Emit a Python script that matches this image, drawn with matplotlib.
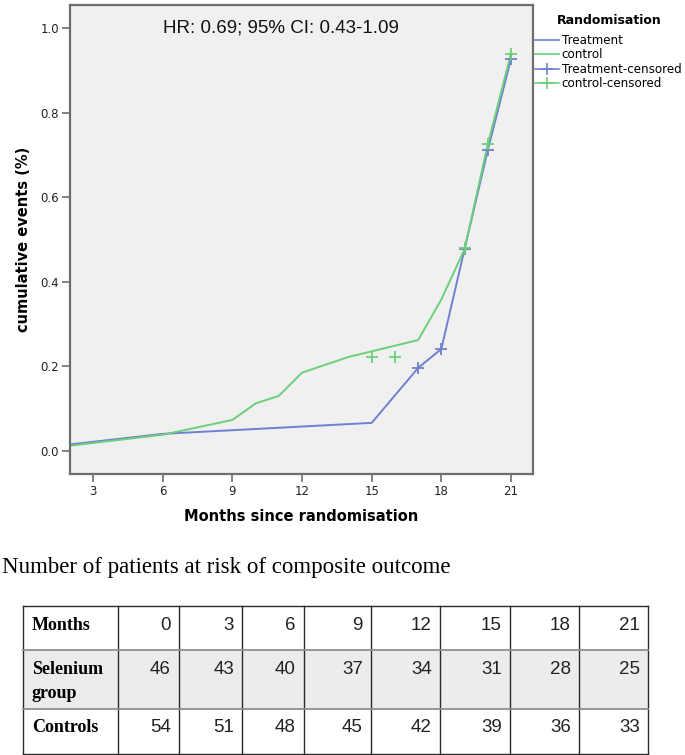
import matplotlib
matplotlib.use('Agg')
import matplotlib.pyplot as plt
from matplotlib.lines import Line2D

plt.rcParams['font.family'] = ['DejaVu Sans']

# ---- data ----
treat_x = [2, 6, 15, 17, 18, 19, 20, 21]
treat_y = [0.015, 0.040, 0.066, 0.196, 0.241, 0.477, 0.711, 0.927]
ctrl_x = [2, 6, 9, 10, 11, 12, 14, 17, 18, 19, 20, 21]
ctrl_y = [0.012, 0.038, 0.073, 0.112, 0.130, 0.185, 0.222, 0.262, 0.358, 0.477, 0.725, 0.940]

treat_cens_x = [17, 18, 19, 20, 21]
treat_cens_y = [0.196, 0.241, 0.477, 0.711, 0.927]
ctrl_cens_x = [15, 16, 19, 20, 21]
ctrl_cens_y = [0.222, 0.222, 0.479, 0.727, 0.940]

# ---- numbers at risk table ----
months = [0, 3, 6, 9, 12, 15, 18, 21]
selenium = [46, 43, 40, 37, 34, 31, 28, 25]
controls = [54, 51, 48, 45, 42, 39, 36, 33]

blue = '#6f80d0'
green = '#6ccf7a'
spine = '#6e6e6e'

fig = plt.figure(figsize=(6.85, 7.55), dpi=100)
ax = fig.add_axes([70/685, 1 - 474/755, 463/685, 469/755])
ax.set_facecolor('#f0f0f0')

ax.plot(treat_x, treat_y, color=blue, lw=1.4)
ax.plot(ctrl_x, ctrl_y, color=green, lw=1.4)
ax.plot(treat_cens_x, treat_cens_y, ls='none', marker='+', ms=9, mew=1.3, color=blue)
ax.plot(ctrl_cens_x, ctrl_cens_y, ls='none', marker='+', ms=9, mew=1.3, color=green)

ax.set_xlim(2, 21.95)
ax.set_ylim(-0.055, 1.055)
ax.set_xticks([3, 6, 9, 12, 15, 18, 21])
ax.set_yticks([0.0, 0.2, 0.4, 0.6, 0.8, 1.0])
ax.set_yticklabels(['0.0', '0.2', '0.4', '0.6', '0.8', '1.0'])
for s in ax.spines.values():
    s.set_color(spine)
    s.set_linewidth(1.6)
ax.tick_params(direction='out', length=6, width=1.2, color=spine,
               labelsize=8.5, labelcolor='#222222', pad=2)

ax.set_xlabel('Months since randomisation', fontsize=10.5, fontweight='bold',
              labelpad=8)
ax.set_ylabel('cumulative events (%)', fontsize=10.5, fontweight='bold',
              labelpad=7)

ax.text((281 - 70) / 463, 0.951, 'HR: 0.69; 95% CI: 0.43-1.09', transform=ax.transAxes,
        ha='center', va='center', fontsize=13.5, family='Liberation Sans',
        color='#111111')

# legend
handles = [
    Line2D([], [], color=blue, lw=1.2),
    Line2D([], [], color=green, lw=1.2),
    Line2D([], [], color=blue, lw=1.2, marker='+', ms=9, mew=1.2),
    Line2D([], [], color=green, lw=1.2, marker='+', ms=9, mew=1.2),
]
labels = ['Treatment', 'control', 'Treatment-censored', 'control-censored']
fig.text(557/685, 1 - 20/755, 'Randomisation', ha='left', va='center',
         fontsize=9, fontweight='bold')
fig.legend(handles, labels, loc='upper left',
           bbox_to_anchor=(535/685, 1 - 34/755), frameon=False,
           fontsize=8.6, handlelength=2.0, handletextpad=0.25,
           labelspacing=0.12, borderpad=0, borderaxespad=0)

# caption
fig.text(2/685, 1 - 567/755, 'Number of patients at risk of composite outcome',
         ha='left', va='center', fontsize=16.5, family='Liberation Serif')

# table drawn in pixel-like units
tax = fig.add_axes([0, 0, 1, 1])
tax.set_xlim(0, 685)
tax.set_ylim(755, 0)
tax.axis('off')

col_edges = [23, 118, 179, 242, 304, 371, 440, 510, 579, 648]
row_edges = [606, 650, 709, 754]

tax.fill_between([col_edges[0], col_edges[-1]], row_edges[1], row_edges[2],
                 color='#ececec', lw=0)
for xe in col_edges:
    tax.plot([xe, xe], [row_edges[0], row_edges[-1]], color='#2a2a2a', lw=1.0)
tax.plot([col_edges[0], col_edges[-1]], [row_edges[0]] * 2, color='#2a2a2a', lw=1.0)
tax.plot([col_edges[0], col_edges[-1]], [row_edges[-1]] * 2, color='#2a2a2a', lw=1.0)
for ye in row_edges[1:-1]:
    tax.plot([col_edges[0], col_edges[-1]], [ye, ye], color='#8f8f8f', lw=1.3)

row_labels = ['Months', 'Selenium', 'Controls']
row_vals = [months, selenium, controls]
row_text_y = [625, 670, 728]
for lab, vals, ty in zip(row_labels, row_vals, row_text_y):
    tax.text(32, ty, lab, ha='left', va='center', fontsize=13,
             fontweight='bold', family='Liberation Serif')
    for j, v in enumerate(vals):
        tax.text(col_edges[j + 2] - 8, ty, str(v), ha='right', va='center',
                 fontsize=13.5, family='Liberation Sans', color='#222222')
tax.text(32, 693, 'group', ha='left', va='center', fontsize=13,
         fontweight='bold', family='Liberation Serif')

fig.savefig('out.png', dpi=100)
